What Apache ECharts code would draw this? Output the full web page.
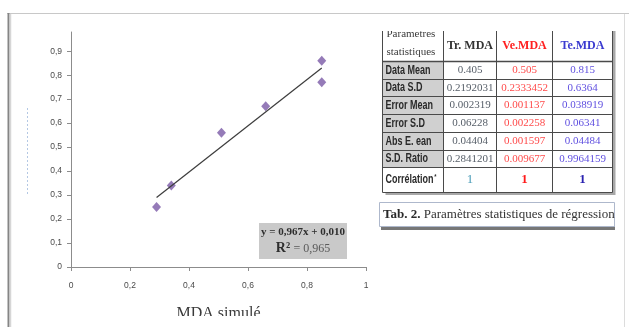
<!DOCTYPE html>
<html>
<head>
<meta charset="utf-8">
<script src="https://cdn.jsdelivr.net/npm/echarts@6/dist/echarts.min.js"></script>
<style>
  html, body { margin: 0; padding: 0; background: #fff; }
  #chart { width: 629px; height: 327px; }
</style>
</head>
<body>
<div id="chart"></div>
<script>
// scatter: MDA simulé vs observé
var simX = [0.29, 0.34, 0.51, 0.66, 0.85, 0.85];
var obsY = [0.25, 0.34, 0.56, 0.67, 0.86, 0.77];
// trend line ends
var trendX = [0.29, 0.85];
var trendY = [0.29, 0.83];
var xTicks = [0, 0.2, 0.4, 0.6, 0.8, 1];
var yTicks = [0, 0.1, 0.2, 0.3, 0.4, 0.5, 0.6, 0.7, 0.8, 0.9];
var eqLine = 'y = 0,967x + 0,010';
var r2Value = '= 0,965';

// table
var rowLabels = ['Data Mean', 'Data S.D', 'Error Mean', 'Error S.D', 'Abs E. ean', 'S.D. Ratio', 'Corrélation'];
var colHeads = ['Tr. MDA', 'Ve.MDA', 'Te.MDA'];
var trValues = ['0.405', '0.2192031', '0.002319', '0.06228', '0.04404', '0.2841201', '1'];
var veValues = ['0.505', '0.2333452', '0.001137', '0.002258', '0.001597', '0.009677', '1'];
var teValues = ['0.815', '0.6364', '0.038919', '0.06341', '0.04484', '0.9964159', '1'];
var caption = 'Paramètres statistiques de régression';

var commaFmt = function (v) { return String(v).replace('.', ','); };

var pts = simX.map(function (x, i) { return [x, obsY[i]]; });
var trend = trendX.map(function (x, i) { return [x, trendY[i]]; });

// table layout
var colX = [382.5, 443.5, 496.5, 552.5, 612.5];
var rowY = [31, 61.5, 79.5, 96.5, 114.5, 132.5, 150.5, 167.5, 192.5];
var headColors = ['#333333', '#ff2020', '#3a3ad0'];
var valColors = ['#58606a', '#ff4a4a', '#6050e0'];
var lastColors = ['#4a9cb8', '#ff1a1a', '#2a22b0'];
var colVals = [trValues, veValues, teValues];

var g = [];
// outer frame of the figure
g.push({ type: 'line', shape: { x1: 7, y1: 13.5, x2: 629, y2: 13.5 }, style: { stroke: '#c8c8c8', lineWidth: 1 } });
g.push({ type: 'line', shape: { x1: 8.5, y1: 13, x2: 8.5, y2: 327 }, style: { stroke: '#858585', lineWidth: 2 } });
g.push({ type: 'line', shape: { x1: 10.5, y1: 14, x2: 10.5, y2: 327 }, style: { stroke: '#d6d6d6', lineWidth: 1.5 } });
g.push({ type: 'line', shape: { x1: 624.5, y1: 14, x2: 624.5, y2: 327 }, style: { stroke: '#dcdcdc', lineWidth: 1 } });
g.push({ type: 'line', shape: { x1: 27.5, y1: 108, x2: 27.5, y2: 195 }, style: { stroke: '#b4c8e4', lineWidth: 1, lineDash: [2, 2] } });

// equation box
g.push({ type: 'rect', shape: { x: 259, y: 223, width: 88, height: 36 }, style: { fill: '#c9c9c9' }, z: 50 });
g.push({ type: 'text', x: 303, y: 232, z: 51, style: { text: eqLine, align: 'center', verticalAlign: 'middle', font: 'bold 11px "Liberation Serif"', fill: '#2e2e2e' } });
g.push({ type: 'text', x: 303, y: 248.5, z: 51, style: {
  text: '{r|R²} {v|' + r2Value + '}', align: 'center', verticalAlign: 'middle',
  rich: {
    r: { font: 'bold 14px "Liberation Serif"', fill: '#2e2e2e' },
    v: { font: '12px "Liberation Serif"', fill: '#5a5a5a' }
  }
} });

// table shadow + first column fill
g.push({ type: 'rect', shape: { x: colX[0] + 3, y: rowY[0], width: colX[4] - colX[0], height: rowY[8] - rowY[0] + 2.5 }, style: { fill: '#a8a8a8' } });
g.push({ type: 'rect', shape: { x: colX[0], y: rowY[0], width: colX[4] - colX[0], height: rowY[8] - rowY[0] }, style: { fill: '#ffffff' } });
for (var r = 1; r < 7; r++) {
  g.push({ type: 'rect', shape: { x: colX[0], y: rowY[r], width: colX[1] - colX[0], height: rowY[r + 1] - rowY[r] }, style: { fill: '#d0d0d0' } });
}
// header texts
g.push({ type: 'text', x: colX[0] + 4, y: 34.5, z: 5, style: { text: 'Parametres', verticalAlign: 'middle', font: '11px "Liberation Serif"', fill: '#3a3a3a' } });
g.push({ type: 'text', x: colX[0] + 4, y: 52, z: 5, style: { text: 'statistiques', verticalAlign: 'middle', font: '11px "Liberation Serif"', fill: '#3a3a3a' } });
// mask the clipped top of the table
g.push({ type: 'rect', shape: { x: 378, y: 14, width: 240, height: 17 }, style: { fill: '#ffffff' }, z: 20 });
colHeads.forEach(function (h, c) {
  g.push({ type: 'text', x: (colX[c + 1] + colX[c + 2]) / 2, y: 46, z: 5, style: { text: h, align: 'center', verticalAlign: 'middle', font: 'bold 12px "Liberation Serif"', fill: headColors[c] } });
});
rowLabels.forEach(function (lab, r) {
  var cy = (rowY[r + 1] + rowY[r + 2]) / 2;
  var last = r === rowLabels.length - 1;
  // narrow bold label (condensed with scaleX)
  g.push({ type: 'text', x: colX[0] + 3, y: cy, scaleX: 0.72, z: 5, style: {
    text: last ? lab + '{s|*}' : lab, verticalAlign: 'middle',
    font: 'bold 12.5px "Liberation Sans"', fill: '#2a2a2a',
    rich: { s: { font: 'bold 8px "Liberation Sans"', fill: '#2a2a2a', verticalAlign: 'top', padding: [0, 0, 6, 1] } }
  } });
  colVals.forEach(function (vals, c) {
    g.push({ type: 'text', x: (colX[c + 1] + colX[c + 2]) / 2, y: cy, z: 5, style: {
      text: vals[r], align: 'center', verticalAlign: 'middle',
      font: (last && c > 0 ? 'bold 13px' : (last ? '13px' : '11px')) + ' "Liberation Serif"',
      fill: last ? lastColors[c] : valColors[c]
    } });
  });
});
// grid lines of the table
for (var i = 1; i < rowY.length; i++) {
  g.push({ type: 'line', z: 6, shape: { x1: colX[0], y1: rowY[i], x2: colX[4], y2: rowY[i] }, style: { stroke: '#4a4a4a', lineWidth: i === 1 ? 1.5 : 1 } });
}
colX.forEach(function (x) {
  g.push({ type: 'line', z: 6, shape: { x1: x, y1: rowY[0], x2: x, y2: rowY[8] }, style: { stroke: '#4a4a4a', lineWidth: 1 } });
});

// caption box
g.push({ type: 'rect', shape: { x: 381, y: 205, width: 234, height: 25 }, style: { fill: '#777777' } });
g.push({ type: 'rect', shape: { x: 379.5, y: 202.5, width: 235, height: 24 }, style: { fill: '#ffffff', stroke: '#aeb8cc', lineWidth: 1 } });
g.push({ type: 'text', x: 383, y: 214.5, z: 5, style: {
  text: '{b|Tab. 2.} ' + caption, verticalAlign: 'middle',
  font: '13px "Liberation Serif"', fill: '#333333',
  rich: { b: { font: 'bold 13px "Liberation Serif"', fill: '#2a2a2a' } }
} });
// right edge of the caption box cuts the text
g.push({ type: 'rect', shape: { x: 615, y: 200, width: 8, height: 32 }, style: { fill: '#ffffff' }, z: 20 });

// mask the cut axis title at the bottom
g.push({ type: 'rect', shape: { x: 140, y: 316, width: 160, height: 11 }, style: { fill: '#ffffff' }, z: 100 });

var option = {
  animation: false,
  grid: { left: 71, right: 263, top: 32, bottom: 50 },
  xAxis: {
    type: 'value',
    min: 0,
    max: 1,
    name: 'MDA simulé',
    nameLocation: 'middle',
    nameGap: 39,
    nameTextStyle: { fontFamily: 'Liberation Serif', fontSize: 16, color: '#3a3a3a' },
    axisLine: { lineStyle: { color: '#8c8c8c' } },
    axisTick: { customValues: xTicks, length: 4, lineStyle: { color: '#8c8c8c' } },
    axisLabel: { customValues: xTicks, formatter: commaFmt, margin: 14, fontFamily: 'Liberation Sans', fontSize: 8.5, color: '#4a4a4a' },
    splitLine: { show: false }
  },
  yAxis: {
    type: 'value',
    min: 0,
    max: 0.98,
    axisLine: { show: true, lineStyle: { color: '#8c8c8c' } },
    axisTick: { show: true, customValues: yTicks, length: 4, lineStyle: { color: '#8c8c8c' } },
    axisLabel: { customValues: yTicks, formatter: commaFmt, margin: 9, fontFamily: 'Liberation Sans', fontSize: 8.5, color: '#4a4a4a' },
    splitLine: { show: false }
  },
  series: [
    {
      type: 'line',
      data: trend,
      symbol: 'none',
      lineStyle: { color: '#3c3c3c', width: 1.2 }
    },
    {
      type: 'scatter',
      data: pts,
      symbol: 'diamond',
      symbolSize: [9, 10],
      itemStyle: { color: '#7a5aa6' }
    }
  ],
  graphic: g
};

echarts.init(document.getElementById('chart')).setOption(option);
</script>
</body>
</html>
